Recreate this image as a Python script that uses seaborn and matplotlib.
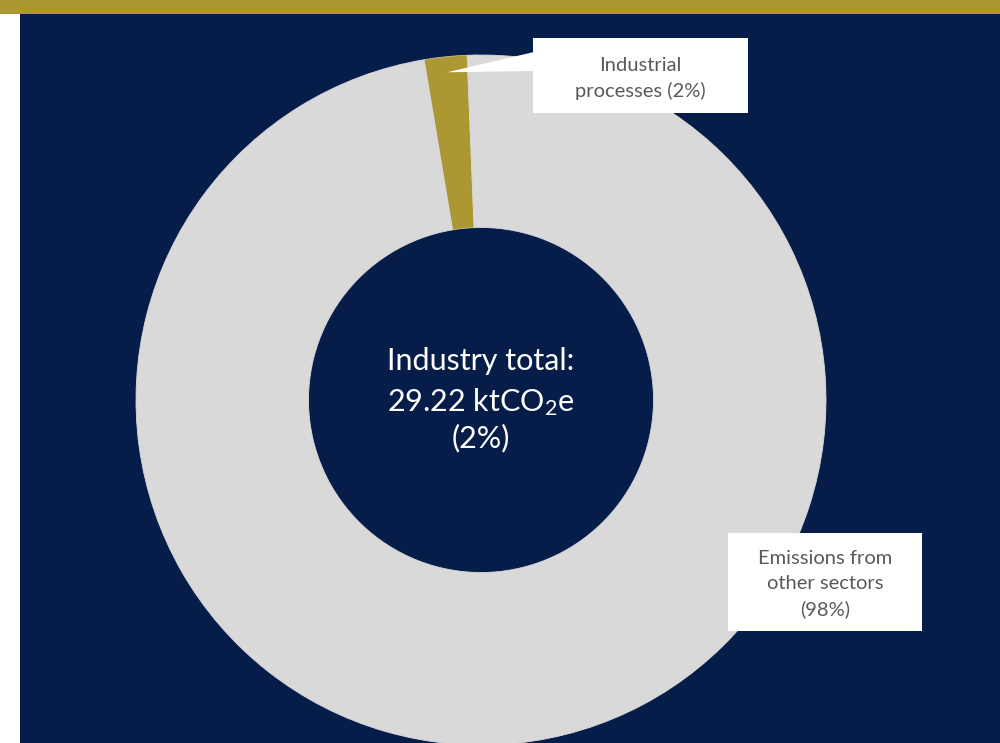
import matplotlib
matplotlib.use("Agg")
import matplotlib.pyplot as plt
from matplotlib.patches import Rectangle, Polygon
import numpy as np
import seaborn as sns

# Shares of total emissions
categories = ["Industrial processes", "Emissions from other sectors"]
shares = [2, 98]
industry_total = 29.22  # ktCO2e

NAVY = "#061D49"
GOLD = "#AD9733"
GREY = "#D9D9D9"
TEXT_GREY = "#595959"

sns.set_theme(style="white")
plt.rcParams["font.family"] = ["Lato", "DejaVu Sans"]
plt.rcParams["mathtext.fontset"] = "custom"
plt.rcParams["mathtext.rm"] = "Lato"

W, H = 1000, 743
fig = plt.figure(figsize=(W / 100, H / 100), dpi=100, facecolor="white")

# Gold banner across the top
fig.patches.append(Rectangle((0, 1 - 14 / H), 1, 14 / H, transform=fig.transFigure,
                             facecolor=GOLD, edgecolor="none", zorder=0))

# Navy panel; data units are pixels (y measured up from the bottom)
ax = fig.add_axes([20 / W, 0, 980 / W, (H - 14) / H])
ax.set_facecolor(NAVY)

cx, cy, R = 481, H - 400, 345
ring = 0.5
start = 92.3
palette = sns.color_palette([GOLD, GREY])
wedges, _ = ax.pie(shares, colors=palette, startangle=start, counterclock=True,
                   center=(cx, cy), radius=R, frame=True,
                   wedgeprops=dict(width=R * ring, edgecolor=GREY, linewidth=0.6))
wedges[0].set_edgecolor("#C9C0A0")

ax.set_xlim(20, 1000)
ax.set_ylim(0, H - 14)
ax.set_aspect("equal", adjustable="box")
ax.set_xticks([])
ax.set_yticks([])
for s in ax.spines.values():
    s.set_visible(False)

# Centre label
centre_kw = dict(ha="center", va="center", color="white", fontsize=22)
ax.text(cx, cy + 39, "Industry total:", **centre_kw)
ax.text(cx, cy - 2, f"{industry_total:.2f} ktCO$\\mathregular{{_2}}$e", **centre_kw)
ax.text(cx, cy - 38, f"({shares[0]}%)", **centre_kw)

label_kw = dict(ha="center", va="center", color=TEXT_GREY, fontsize=14.5,
                linespacing=1.55, zorder=5)

# Callout for the small slice
theta = np.deg2rad((wedges[0].theta1 + wedges[0].theta2) / 2)
tip = (cx + 0.955 * R * np.cos(theta), cy + 0.955 * R * np.sin(theta))
b1 = (533, H - 113, 215, 75)
ax.add_patch(Polygon([tip, (b1[0] + 1, H - 52), (b1[0] + 1, H - 71)], closed=True,
                     facecolor="white", edgecolor="none", zorder=4))
ax.add_patch(Rectangle(b1[:2], b1[2], b1[3], facecolor="white", edgecolor="none", zorder=4))
ax.text(b1[0] + b1[2] / 2, b1[1] + b1[3] / 2 - 3,
        f"Industrial\nprocesses ({shares[0]}%)", **label_kw)

b2 = (728, H - 631, 194, 98)
ax.add_patch(Rectangle(b2[:2], b2[2], b2[3], facecolor="white", edgecolor="none", zorder=4))
ax.text(b2[0] + b2[2] / 2, b2[1] + b2[3] / 2 - 2,
        f"Emissions from\nother sectors\n({shares[1]}%)", **label_kw)

fig.savefig("out.png", dpi=100, facecolor=fig.get_facecolor())
